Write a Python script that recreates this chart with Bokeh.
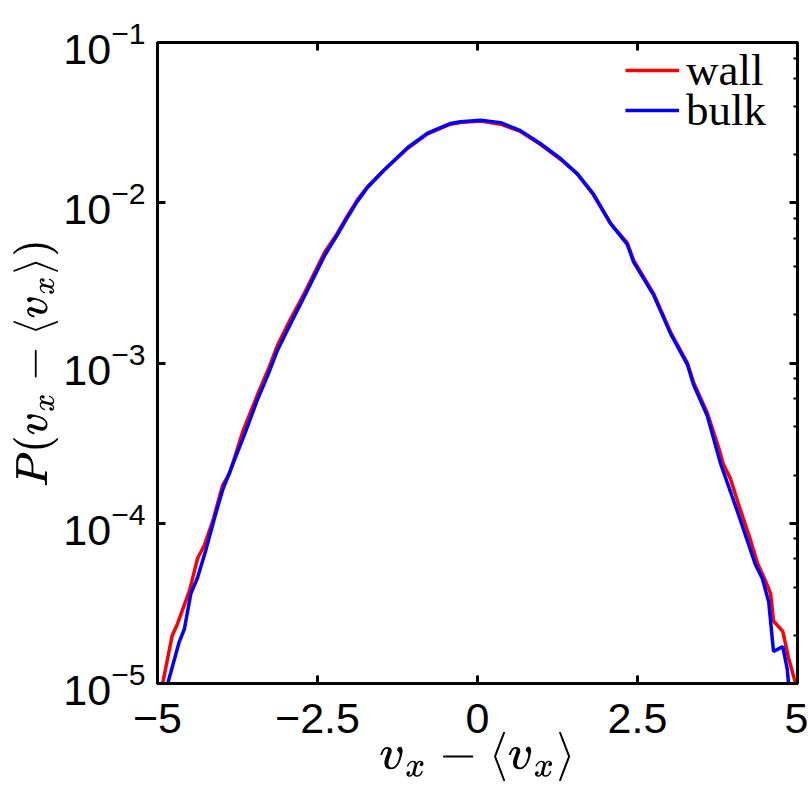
import numpy as np
from bokeh.plotting import figure
from bokeh.models import Legend, LegendItem, LinearAxis, LogAxis, FixedTicker
from bokeh.embed import file_html
from bokeh.resources import INLINE

# Velocity-fluctuation distributions, stored as (v_x - <v_x>, log10 P)
wall_v = [-4.96, -4.92, -4.77, -4.69, -4.50, -4.375, -4.27, -4.14, -3.98, -3.875,
          -3.67, -3.44, -3.28, -3.125, -2.94, -2.70, -2.39, -2.19, -2.06, -1.875,
          -1.72, -1.47, -1.09, -0.78, -0.42, -0.27, 0.05, 0.36, 0.67, 0.98,
          1.30, 1.56, 1.81, 2.08, 2.34, 2.44, 2.75, 3.02, 3.28, 3.375,
          3.59, 3.77, 3.84, 3.95, 4.11, 4.27, 4.375, 4.50, 4.58, 4.625,
          4.77, 4.86, 4.97, 5.02]
wall_log10p = [-5.12, -5.00, -4.70, -4.63, -4.42, -4.22, -4.14, -3.99, -3.76, -3.69,
               -3.43, -3.20, -3.05, -2.89, -2.74, -2.56, -2.31, -2.19, -2.10, -1.98,
               -1.90, -1.80, -1.66, -1.57, -1.51, -1.50, -1.49, -1.51, -1.555, -1.635,
               -1.73, -1.82, -1.95, -2.13, -2.25, -2.36, -2.565, -2.81, -3.00, -3.12,
               -3.31, -3.53, -3.63, -3.72, -3.92, -4.11, -4.25, -4.36, -4.44, -4.61,
               -4.675, -4.84, -5.00, -5.06]

bulk_v = [-4.88, -4.84, -4.66, -4.58, -4.48, -4.375, -4.25, -4.09, -3.98, -3.91,
          -3.625, -3.44, -3.28, -3.125, -2.94, -2.70, -2.39, -2.19, -2.06, -1.875,
          -1.72, -1.47, -1.09, -0.78, -0.42, -0.27, 0.05, 0.36, 0.67, 0.98,
          1.30, 1.56, 1.81, 2.08, 2.34, 2.44, 2.75, 3.02, 3.28, 3.375,
          3.59, 3.80, 4.06, 4.34, 4.45, 4.55, 4.625, 4.77, 4.84, 4.86, 4.88]
bulk_log10p = [-5.12, -5.00, -4.74, -4.66, -4.44, -4.34, -4.175, -3.94, -3.79, -3.72,
               -3.43, -3.23, -3.08, -2.92, -2.77, -2.58, -2.33, -2.20, -2.11, -1.99,
               -1.905, -1.80, -1.655, -1.565, -1.505, -1.495, -1.485, -1.50, -1.55, -1.63,
               -1.725, -1.82, -1.945, -2.13, -2.26, -2.37, -2.575, -2.82, -3.01, -3.135,
               -3.33, -3.63, -3.925, -4.256, -4.344, -4.49, -4.80, -4.77, -4.91, -5.00, -5.10]

x_ticks = [-5, -2.5, 0, 2.5, 5]
y_ticks = [1e-5, 1e-4, 1e-3, 1e-2, 1e-1]

p = figure(width=808, height=789, output_backend="svg", toolbar_location=None,
           x_range=(-5, 5), y_range=(1e-5, 1e-1), y_axis_type="log",
           x_axis_location=None, y_axis_location=None)
p.min_border_left = 157
p.min_border_right = 11
p.min_border_top = 42
p.min_border_bottom = 106
p.background_fill_color = "white"
p.border_fill_color = "white"
p.outline_line_color = "black"
p.outline_line_width = 3
p.grid.visible = False

tick_font = "Liberation Sans"

xb = LinearAxis(ticker=FixedTicker(ticks=x_ticks),
                axis_label="$$v_x - \\langle v_x \\rangle$$")
yl = LogAxis(ticker=FixedTicker(ticks=y_ticks),
             axis_label="$$P(v_x - \\langle v_x \\rangle)$$")
xt = LinearAxis(ticker=FixedTicker(ticks=x_ticks))
yr = LogAxis()

for ax in (xb, yl, xt, yr):
    ax.axis_line_width = 3
    ax.axis_line_color = "black"
    ax.major_tick_in = 8
    ax.major_tick_out = 0
    ax.major_tick_line_width = 3
    ax.minor_tick_in = 4
    ax.minor_tick_out = 0
    ax.minor_tick_line_width = 2
    ax.major_label_text_font = tick_font
    ax.major_label_text_font_size = "43px"
    ax.major_label_text_color = "black"
    ax.axis_label_text_font_style = "normal"
    ax.axis_label_text_color = "black"

xb.axis_label_text_font_size = "40px"
yl.axis_label_text_font_size = "37px"

for ax in (xb, xt):
    ax.minor_tick_line_color = None
for ax in (xt, yr):
    ax.major_label_text_font_size = "1px"
    ax.major_label_text_alpha = 0
    ax.major_label_standoff = 0

xb.major_label_standoff = 20
yl.major_label_standoff = 12
xb.axis_label_standoff = -4
yl.axis_label_standoff = 2

p.add_layout(xb, "below")
p.add_layout(yl, "left")
p.add_layout(xt, "above")
p.add_layout(yr, "right")

wall_p = [10.0 ** v for v in wall_log10p]
bulk_p = [10.0 ** v for v in bulk_log10p]

r_wall = p.line(wall_v, wall_p, line_color="#ff0000", line_width=3.5)
r_bulk = p.line(bulk_v, bulk_p, line_color="#0000ff", line_width=3.5)


def key_entry(label, renderer, loc):
    lg = Legend(items=[LegendItem(label=label, renderers=[renderer])], location=loc)
    lg.label_text_font = "Liberation Serif"
    lg.label_text_font_size = "45px"
    lg.label_text_color = "black"
    lg.glyph_width = 54
    lg.glyph_height = 40
    lg.label_height = 40
    lg.label_standoff = 7
    lg.padding = 0
    lg.margin = 0
    lg.border_line_color = None
    lg.background_fill_alpha = 0
    return lg


p.add_layout(key_entry("wall", r_wall, (468, 587)))
p.add_layout(key_entry("bulk", r_bulk, (468, 547)))

open("out.html", "w").write(file_html(p, INLINE))
